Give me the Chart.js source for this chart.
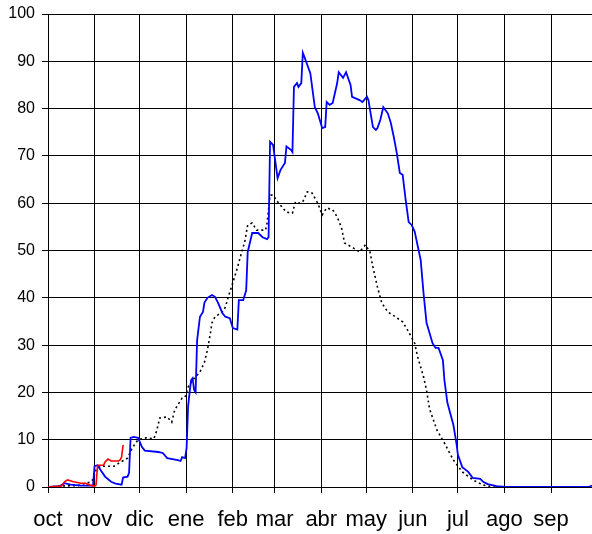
<!DOCTYPE html>
<html>
<head>
<meta charset="utf-8">
<script src="https://cdn.jsdelivr.net/npm/chart.js@4"></script>
<style>
  html, body { margin: 0; padding: 0; background: #fff; overflow: hidden; }
  #wrap { width: 592px; height: 534px; position: relative; }
  canvas { display: block; }
</style>
</head>
<body>
<div id="wrap"><canvas id="grafico"></canvas></div>
<script>
// Meses del año hidrológico (día de inicio de cada mes, desde el 1 de octubre)
const monthStarts = [0, 31, 61, 92, 123, 151, 182, 212, 243, 273, 304, 335];
const monthLabels = ['oct', 'nov', 'dic', 'ene', 'feb', 'mar', 'abr', 'may', 'jun', 'jul', 'ago', 'sep'];
const lastDay = 362.3; // la imagen corta la gráfica un poco antes del 30 de septiembre

// Serie azul (temporada actual)
const blueDays = [0, 8, 11, 15, 22, 30, 31, 33, 35, 38, 42, 45, 49, 50, 53, 54, 55, 57, 60, 62.5, 64.5, 73.5, 76.4, 79.4, 86.4, 88.3, 89.3, 91.3, 92.3, 93.3, 94.3, 95.3, 96.3, 97.3, 98.3,
  99.3, 101.2, 103.2, 104.2, 106.2, 109.2, 111.2, 113.2, 116.1, 118.1, 121.1, 123.1, 126.1, 127.1, 130, 132, 133, 136, 140, 142.9, 145.9, 146.9, 147.9, 149.9, 152.9, 154.8, 157.8, 158.8, 161.8, 162.8,
  163.8, 165.8, 166.8, 168.7, 169.7, 170.7, 174.7, 177.7, 179.7, 182.6, 184.6, 185.6, 187.6, 189.6, 192.6, 193.6, 196.5, 198.5, 201.5, 202.5, 207.5, 209.4, 212.4, 213.4, 216.4, 218.4, 219.4, 221.3, 223.3, 226.3,
  228.3, 230.3, 232.3, 234.3, 236.2, 238.2, 240.2, 242.2, 244.2, 248.2, 250.1, 252.1, 256.1, 258.1, 260.1, 263, 264, 266, 270, 272, 273, 275.9, 279.9, 282.9, 287.9, 289.8, 292.8, 298.8, 304.7, 360, 362.3];
const blueValues = [0, 0.2, 0.8, 0.5, 0.3, 0.3, 4.4, 4.6, 3.6, 2.2, 1.1, 0.7, 0.5, 2, 2.2, 3, 10.4, 10.6, 10.4, 8.5, 7.7, 7.4, 7.2, 6.1, 5.7, 5.5, 6.3, 6.1, 8.2, 17, 20, 22.6, 23, 20.5, 20,
  31, 36, 37, 39, 40, 40.6, 40.2, 39, 36.8, 36, 35.7, 33.6, 33.3, 39.5, 39.5, 41.6, 49.7, 53.7, 53.7, 52.8, 52.4, 52.8, 73, 72.3, 65.3, 67, 68.5, 72, 71.3, 70.8,
  84.6, 85.4, 84.6, 85.4, 91.8, 91, 87.5, 80.3, 79, 75.9, 76.1, 81.4, 80.8, 81.2, 85.4, 87.7, 86.5, 87.7, 85, 82.5, 81.8, 81.4, 82.5, 81.8, 76.1, 75.5, 75.9, 77.6, 80.3, 79,
  77, 74, 70.6, 66.4, 66, 60.7, 56, 55.4, 54, 48, 41, 34.7, 30.4, 29.4, 29.4, 26.8, 22.6, 17.8, 13.1, 9.3, 6.8, 4.2, 3.2, 1.9, 1.7, 1.1, 0.6, 0.2, 0, 0, 0.3];

// Serie punteada (media)
const meanDays = [0, 8, 20, 25, 28, 30, 32, 35, 44, 47, 53, 56, 60, 65.5, 70.5, 72.5, 74.4, 79.4, 82.4, 84.4, 89.3, 91.3, 93.3, 96.3, 98.3, 101.2, 104.2, 106.2, 108.2, 109.2, 111.2, 113.2, 116.1, 118.1,
  120.1, 123.1, 126.1, 129, 131, 133, 136, 139, 144.9, 145.9, 147.9, 149.9, 152.9, 155.8, 158.8, 162.8, 164.8, 166.8, 169.7, 172.7, 175.7, 179.7, 182.6, 185.6, 189.6, 192.6, 195.5, 197.5, 203.5, 207.5,
  211.4, 214.4, 216.4, 219.4, 222.3, 226.3, 231.3, 236.2, 240.2, 244.2, 246.2, 250.1, 252.1, 254.1, 259.1, 264, 270, 275.9, 282.9, 289.8, 296.8, 362.3];
const meanValues = [0, 0.2, 0.3, 0.8, 1, 1.6, 3.6, 4.4, 4.4, 5, 6.1, 8.2, 10, 10.4, 10.2, 12, 14.6, 14.8, 13.7, 16.3, 18.8, 19, 21.1, 22.6, 23.3, 24.3, 26.4, 29, 32.6, 34.7, 36, 36.4, 37, 38,
  40.2, 43.2, 46.3, 49.7, 51.8, 55.4, 55.8, 54.3, 54.3, 55.8, 61.7, 61.7, 60.3, 59.2, 58.1, 57.9, 60.3, 60, 60.3, 62.4, 62.2, 60, 57.5, 59, 58.6, 57.1, 54.8, 51.6, 50.5, 49.7,
  51.2, 49.7, 46.5, 42.3, 38.9, 37, 36, 34.9, 32.8, 30.4, 27.5, 23.3, 20.5, 16.5, 12, 9.3, 5.7, 3.2, 1.5, 0.4, 0, 0];

// Serie roja (solo el inicio de temporada)
const redDays = [0, 9, 11, 13, 17, 22, 25, 28, 31, 32, 33, 37, 38, 40, 42, 47, 48, 49, 50];
const redValues = [0, 0.2, 1.1, 1.5, 1.1, 0.8, 0.8, 0.4, 0.2, 0.4, 4.6, 4.6, 5.3, 5.9, 5.5, 5.5, 5.7, 6.3, 8.9];

function toPoints(days, values) {
    return days.map((d, i) => ({ x: d, y: values[i] }));
}

const fuente = 'Liberation Sans, Arial, sans-serif';

new Chart(document.getElementById('grafico'), {
    type: 'line',
    data: {
        datasets: [
            {
                label: 'rojo',
                data: toPoints(redDays, redValues),
                borderColor: '#ff0000',
                borderWidth: 1.6,
                pointRadius: 0,
                tension: 0
            },
            {
                label: 'azul',
                data: toPoints(blueDays, blueValues),
                borderColor: '#0000ff',
                borderWidth: 1.8,
                pointRadius: 0,
                tension: 0
            },
            {
                label: 'media',
                data: toPoints(meanDays, meanValues),
                borderColor: '#000000',
                borderWidth: 1.6,
                borderDash: [2, 3],
                pointRadius: 0,
                tension: 0
            }
        ]
    },
    options: {
        responsive: true,
        maintainAspectRatio: false,
        animation: false,
        layout: { padding: { top: 14, right: 0, left: 0, bottom: 0 } },
        plugins: {
            legend: { display: false },
            tooltip: { enabled: false }
        },
        scales: {
            x: {
                type: 'linear',
                min: 0,
                max: lastDay,
                afterBuildTicks: scale => {
                    scale.ticks = monthStarts.map(v => ({ value: v }));
                },
                afterFit: scale => {
                    scale.height = 47;
                    scale.paddingLeft = 0;
                    scale.paddingRight = 0;
                },
                grid: { color: '#000', lineWidth: 1, tickLength: 6 },
                border: { color: '#000', width: 1 },
                ticks: {
                    autoSkip: false,
                    maxRotation: 0,
                    padding: 14,
                    color: '#000',
                    font: { family: fuente, size: 22 },
                    callback: (value, index) => monthLabels[index]
                }
            },
            y: {
                min: 0,
                max: 100,
                afterFit: scale => {
                    scale.width = 48;
                    scale.paddingTop = 0;
                    scale.paddingBottom = 0;
                },
                grid: { color: '#000', lineWidth: 1, tickLength: 6 },
                border: { color: '#000', width: 1 },
                ticks: {
                    stepSize: 10,
                    padding: 7,
                    color: '#000',
                    font: { family: fuente, size: 16 }
                }
            }
        }
    }
});
</script>
</body>
</html>
